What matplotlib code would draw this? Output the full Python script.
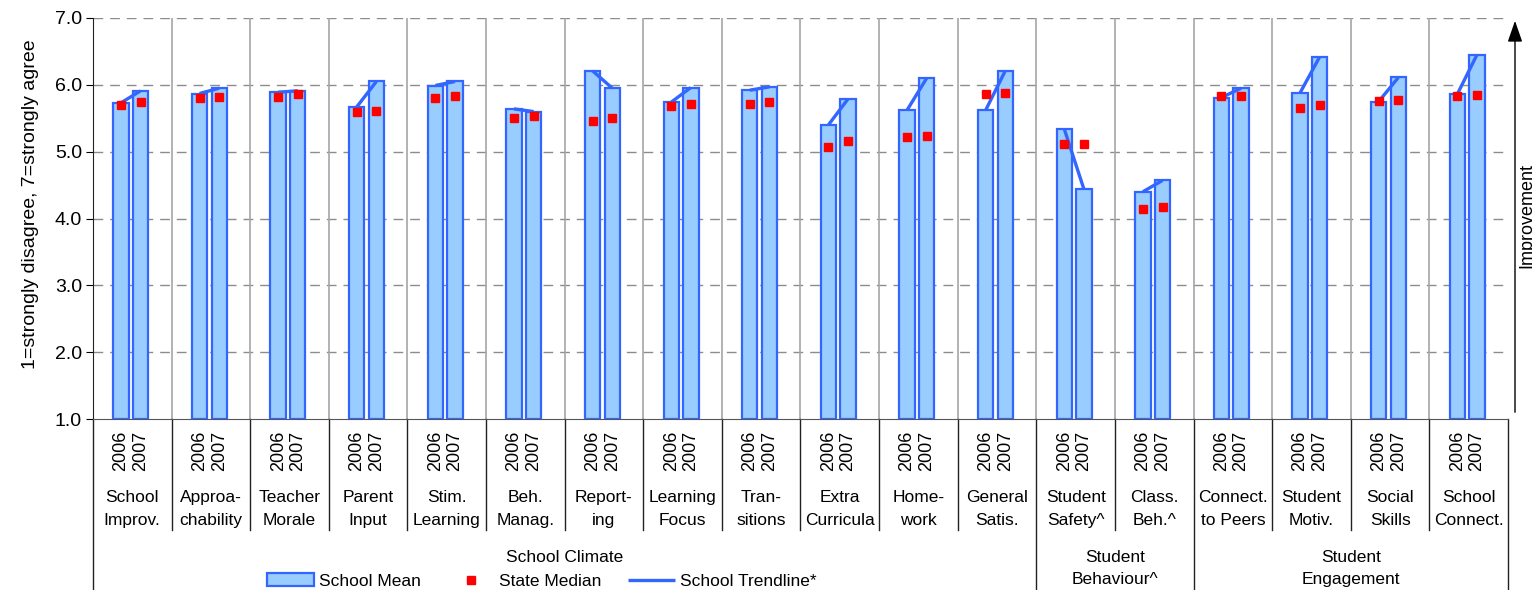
import matplotlib
matplotlib.use("Agg")
import matplotlib.pyplot as plt

plt.rcParams["font.family"] = ["Liberation Sans", "DejaVu Sans"]

categories = ["School\nImprov.", "Approa-\nchability", "Teacher\nMorale", "Parent\nInput",
              "Stim.\nLearning", "Beh.\nManag.", "Report-\ning", "Learning\nFocus",
              "Tran-\nsitions", "Extra\nCurricula", "Home-\nwork", "General\nSatis.",
              "Student\nSafety^", "Class.\nBeh.^", "Connect.\nto Peers", "Student\nMotiv.",
              "Social\nSkills", "School\nConnect."]
years = ["2006", "2007"]
groups = ["School Climate", "Student\nBehaviour^", "Student\nEngagement"]
group_sizes = [12, 2, 4]

mean_2006 = [5.73, 5.87, 5.89, 5.67, 5.99, 5.64, 6.21, 5.74, 5.92, 5.40, 5.62, 5.62,
             5.34, 4.40, 5.81, 5.88, 5.75, 5.86]
mean_2007 = [5.91, 5.95, 5.91, 6.05, 6.05, 5.60, 5.95, 5.96, 5.97, 5.79, 6.10, 6.21,
             4.44, 4.57, 5.95, 6.42, 6.11, 6.45]
median_2006 = [5.70, 5.80, 5.82, 5.60, 5.80, 5.51, 5.46, 5.69, 5.71, 5.07, 5.22, 5.86,
               5.12, 4.14, 5.84, 5.66, 5.76, 5.83]
median_2007 = [5.75, 5.82, 5.86, 5.61, 5.84, 5.54, 5.50, 5.71, 5.75, 5.16, 5.23, 5.88,
               5.12, 4.17, 5.84, 5.70, 5.78, 5.85]

W, H = 1532, 590
fig = plt.figure(figsize=(W / 100, H / 100), dpi=100)
ax = fig.add_axes([93 / W, 1 - 419 / H, (1508 - 93) / W, (419 - 18) / H])

fill = "#99CCFF"
edge = "#3366FF"
n = len(categories)
x06 = [i - 0.145 for i in range(n)]
x07 = [i + 0.105 for i in range(n)]
bw = 0.195

bars = ax.bar(x06, [v - 1 for v in mean_2006], bottom=1, width=bw, color=fill,
              edgecolor=edge, linewidth=1.6, zorder=3)
ax.bar(x07, [v - 1 for v in mean_2007], bottom=1, width=bw, color=fill,
       edgecolor=edge, linewidth=1.6, zorder=3)

for i in range(n):
    trend, = ax.plot([x06[i], x07[i]], [mean_2006[i], mean_2007[i]], color=edge,
                     lw=2.4, zorder=4, solid_capstyle="butt")

med, = ax.plot(x06 + x07, median_2006 + median_2007, ls="none", marker="s",
               ms=6.3, color="#FF0000", mec="#FF0000", zorder=5)

ax.set_xlim(-0.5, n - 0.5)
ax.set_ylim(1, 7)
ax.set_yticks(range(1, 8))
ax.set_yticklabels([f"{v:.1f}" for v in range(1, 8)], fontsize=14)
ax.set_xticks([])
ax.tick_params(axis="y", length=5, pad=3)
ax.set_ylabel("1=strongly disagree, 7=strongly agree", fontsize=14)
ax.yaxis.set_label_coords(-0.038, 0.535)

for y in range(2, 8):
    ax.axhline(y, color="#8C8C8C", lw=1, ls=(0, (7, 5)), zorder=1)
for i in range(1, n):
    ax.axvline(i - 0.5, color="#A6A6A6", lw=1.2, zorder=1)

for s in ["top", "right"]:
    ax.spines[s].set_visible(False)
ax.spines["bottom"].set_color("#555555")
ax.spines["left"].set_color("#222222")

# multi-level category axis
tr = ax.get_xaxis_transform()
def fy(p):
    return (419 - p) / 401

for i in range(n):
    ax.text(x06[i], fy(451), years[0], rotation=90, ha="center", va="center",
            fontsize=13, transform=tr)
    ax.text(x07[i], fy(451), years[1], rotation=90, ha="center", va="center",
            fontsize=13, transform=tr)
    ax.text(i, fy(509), categories[i], ha="center", va="center", fontsize=12.5,
            linespacing=1.7, transform=tr)

major = [-0.5]
for s in group_sizes:
    major.append(major[-1] + s)
for i in range(n + 1):
    b = i - 0.5
    bottom = fy(590) if b in major else fy(530)
    ax.plot([b, b], [0, bottom], color="#222222", lw=1, transform=tr, clip_on=False)

for g, lab in enumerate(groups):
    c = (major[g] + major[g + 1]) / 2
    yy = fy(557) if "\n" not in lab else fy(568.5)
    ax.text(c, yy, lab, ha="center", va="center", fontsize=12.5, linespacing=1.6,
            transform=tr)

fig.legend([bars, med, trend], ["School Mean", "State Median", "School Trendline*"],
           ncol=3, loc="center", bbox_to_anchor=(542 / W, 1 - 581 / H), frameon=False,
           fontsize=12.5, handlelength=2.7, handletextpad=0.3, columnspacing=1.5,
           borderpad=0)

# improvement arrow
ax2 = fig.add_axes([0, 0, 1, 1], facecolor="none")
ax2.set_axis_off()
ax2.set_xlim(0, W)
ax2.set_ylim(H, 0)
ax2.annotate("", xy=(1515, 18), xytext=(1515, 415),
             arrowprops=dict(arrowstyle="-|>,head_length=1.3,head_width=0.45",
                             color="black", lw=1))
ax2.text(1518, 215, "Improvement", rotation=90, ha="left", va="center", fontsize=13)

fig.savefig("out.png", dpi=100)
